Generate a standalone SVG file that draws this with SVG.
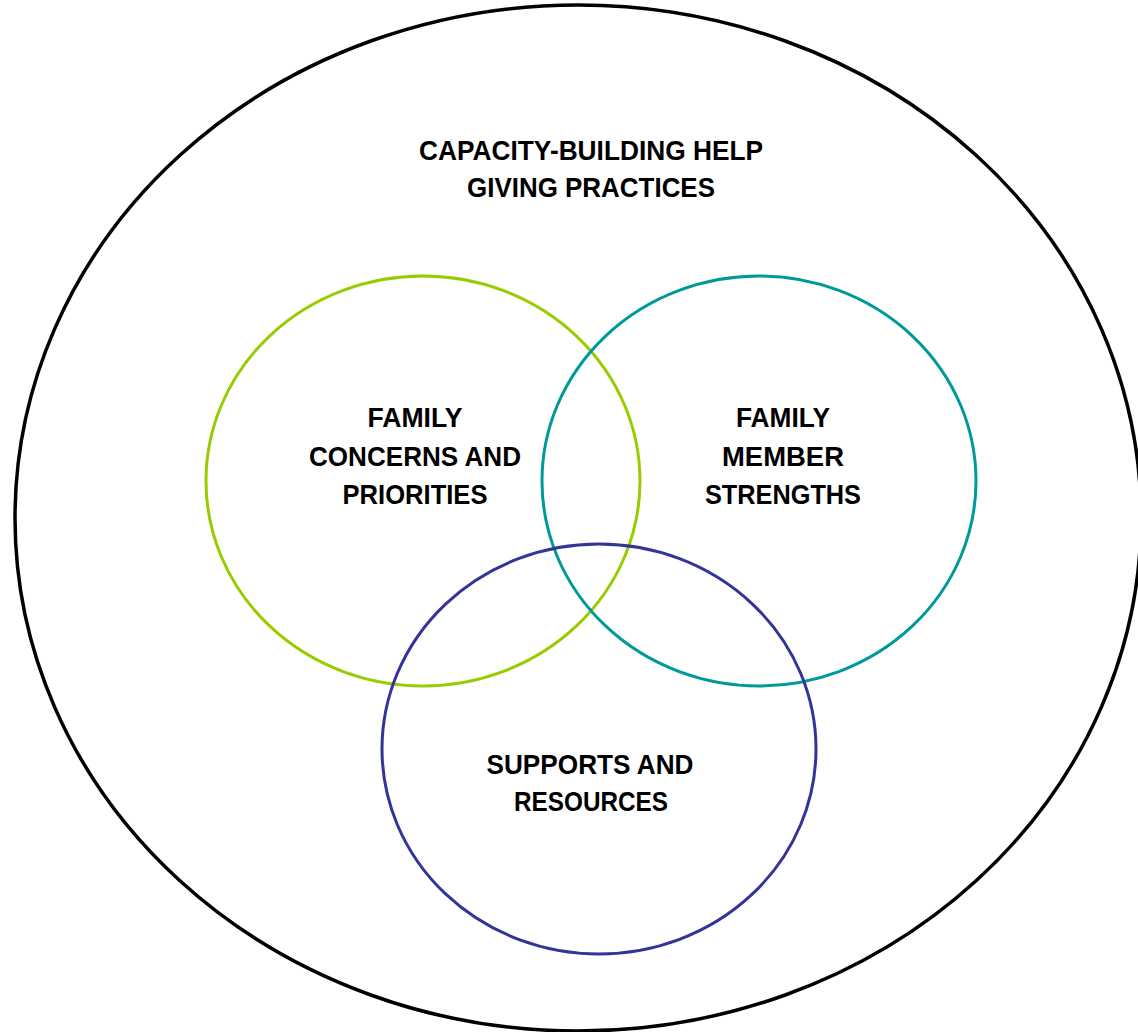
<svg xmlns="http://www.w3.org/2000/svg" width="1138" height="1032" viewBox="0 0 1138 1032">
<style>
.t{font-family:"Liberation Sans",Arial,sans-serif;font-weight:bold;font-size:28.5px;fill:#000;text-anchor:middle}
.c{fill:none;stroke-width:3}
</style>
<rect width="1138" height="1032" fill="#fff"/>
<g id="outer">
<ellipse cx="578" cy="518" rx="563" ry="513" fill="none" stroke="#000" stroke-width="3.5"/>
<text class="t" x="591" y="160" textLength="344" lengthAdjust="spacingAndGlyphs">CAPACITY-BUILDING HELP</text>
<text class="t" x="591" y="197" textLength="248" lengthAdjust="spacingAndGlyphs">GIVING PRACTICES</text>
</g>
<g id="concerns">
<ellipse class="c" cx="423" cy="481" rx="217" ry="205" stroke="#99CC00"/>
<text class="t" x="415" y="427" textLength="95" lengthAdjust="spacingAndGlyphs">FAMILY</text>
<text class="t" x="415" y="466" textLength="212" lengthAdjust="spacingAndGlyphs">CONCERNS AND</text>
<text class="t" x="415" y="504" textLength="145" lengthAdjust="spacingAndGlyphs">PRIORITIES</text>
</g>
<g id="strengths">
<ellipse class="c" cx="759" cy="481" rx="217" ry="205" stroke="#009999"/>
<text class="t" x="783" y="427" textLength="94" lengthAdjust="spacingAndGlyphs">FAMILY</text>
<text class="t" x="783" y="466" textLength="122" lengthAdjust="spacingAndGlyphs">MEMBER</text>
<text class="t" x="783" y="504" textLength="156" lengthAdjust="spacingAndGlyphs">STRENGTHS</text>
</g>
<g id="supports">
<ellipse class="c" cx="599" cy="749" rx="217" ry="205" stroke="#333399"/>
<text class="t" x="590" y="774" textLength="207" lengthAdjust="spacingAndGlyphs">SUPPORTS AND</text>
<text class="t" x="591" y="811" textLength="154" lengthAdjust="spacingAndGlyphs">RESOURCES</text>
</g>
<g id="connectors"></g>
</svg>
